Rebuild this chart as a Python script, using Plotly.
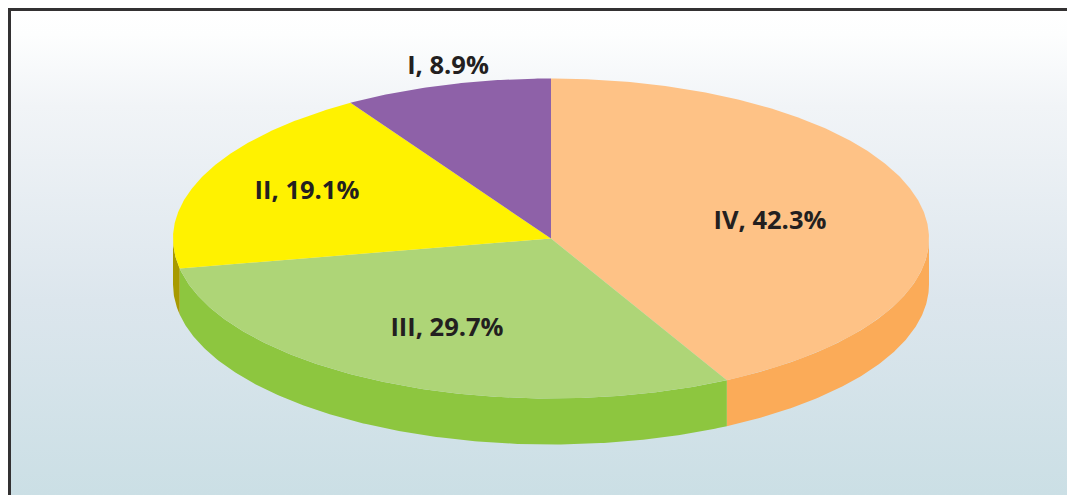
"""Quarter shares as a tilted 3D pie, drawn with filled scatter traces."""
import numpy as np
import plotly.graph_objects as go

LABELS = ["IV", "III", "II", "I"]
SHARES = [42.3, 29.7, 19.1, 8.9]
TOP_COLORS = ["#fec286", "#aed577", "#fff200", "#8e61a8"]
SIDE_COLORS = ["#fbab58", "#8dc63f", "#a89a00", "#8e61a8"]
# label centres, in pixels
LABEL_X = [770, 447, 307, 448]
LABEL_Y = [223, 330, 193, 68]

W, H = 1067, 495
CX, CY, RX, RY, DEPTH = 551, 238.5, 378, 160, 46
FONT = "Open Sans"


def rim(a0, a1, drop=0):
    t = np.radians(np.linspace(a0, a1, max(int(abs(a1 - a0) * 2), 2)))
    return CX + RX * np.sin(t), CY - RY * np.cos(t) + drop


fig = go.Figure()

# background panel with its vertical gradient
fig.add_trace(go.Scatter(
    x=[10, W, W, 10, 10], y=[10, 10, H, H, 10],
    mode="lines", line=dict(width=0), fill="toself",
    fillgradient=dict(
        type="vertical",
        colorscale=[[0, "#cbdfe5"], [0.4, "#dce6ed"], [0.8, "#f1f4f7"], [0.95, "#fdfefe"], [1, "#ffffff"]],
    ),
    hoverinfo="skip", showlegend=False,
))

edges = np.cumsum([0] + SHARES) * 3.6

# side wall, only the front half of the rim shows
for i, label in enumerate(LABELS):
    a0, a1 = max(edges[i], 90), min(edges[i + 1], 270)
    if a0 >= a1:
        continue
    x0, y0 = rim(a0, a1)
    x1, y1 = rim(a1, a0, DEPTH)
    fig.add_trace(go.Scatter(
        x=np.r_[x0, x1, x0[0]], y=np.r_[y0, y1, y0[0]],
        mode="lines", line=dict(width=0), fill="toself",
        fillcolor=SIDE_COLORS[i], hoverinfo="skip", showlegend=False,
    ))

# top face
for i, label in enumerate(LABELS):
    x0, y0 = rim(edges[i], edges[i + 1])
    fig.add_trace(go.Scatter(
        x=np.r_[CX, x0, CX], y=np.r_[CY, y0, CY],
        mode="lines", line=dict(width=0), fill="toself",
        fillcolor=TOP_COLORS[i], name=label,
        hovertemplate=f"{label}: {SHARES[i]}%<extra></extra>", showlegend=False,
    ))

fig.add_trace(go.Scatter(
    x=LABEL_X, y=LABEL_Y, mode="text",
    text=[f"<b>{n}, {v}%</b>" for n, v in zip(LABELS, SHARES)],
    textposition="middle center",
    textfont=dict(family=FONT, size=25.5, color="#231f20"),
    hoverinfo="skip", showlegend=False,
))

# frame: only top and left edges fall inside the picture
fig.add_shape(type="line", x0=9.5, x1=W, y0=9.5, y1=9.5, line=dict(color="#333132", width=3), layer="above")
fig.add_shape(type="line", x0=9.5, x1=9.5, y0=8, y1=H, line=dict(color="#333132", width=3), layer="above")

fig.update_xaxes(range=[0, W], visible=False, fixedrange=True)
fig.update_yaxes(range=[H, 0], visible=False, fixedrange=True)
fig.update_layout(
    width=W, height=H, margin=dict(l=0, r=0, t=0, b=0),
    paper_bgcolor="white", plot_bgcolor="white",
)

# the page's default body margin would shift the plot by 8px
fig.write_html(
    "out.html",
    config={"displayModeBar": False},
    post_script="document.body.style.margin='0';",
)
